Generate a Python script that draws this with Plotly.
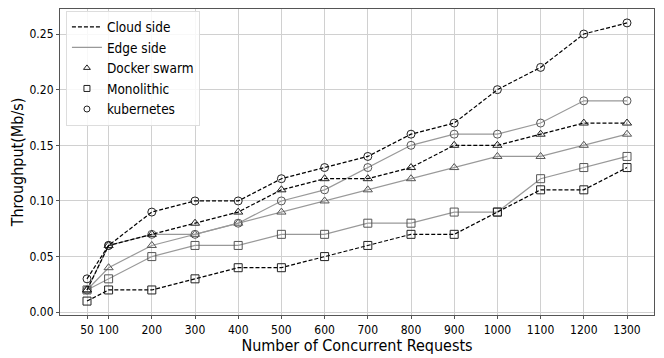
import plotly.graph_objects as go

requests = [50, 100, 200, 300, 400, 500, 600, 700, 800, 900, 1000, 1100, 1200, 1300]

cloud_docker = [0.02, 0.06, 0.07, 0.08, 0.09, 0.11, 0.12, 0.12, 0.13, 0.15, 0.15, 0.16, 0.17, 0.17]
cloud_mono = [0.01, 0.02, 0.02, 0.03, 0.04, 0.04, 0.05, 0.06, 0.07, 0.07, 0.09, 0.11, 0.11, 0.13]
cloud_k8s = [0.03, 0.06, 0.09, 0.10, 0.10, 0.12, 0.13, 0.14, 0.16, 0.17, 0.20, 0.22, 0.25, 0.26]

edge_docker = [0.02, 0.04, 0.06, 0.07, 0.08, 0.09, 0.10, 0.11, 0.12, 0.13, 0.14, 0.14, 0.15, 0.16]
edge_mono = [0.02, 0.03, 0.05, 0.06, 0.06, 0.07, 0.07, 0.08, 0.08, 0.09, 0.09, 0.12, 0.13, 0.14]
edge_k8s = [0.02, 0.06, 0.07, 0.07, 0.08, 0.10, 0.11, 0.13, 0.15, 0.16, 0.16, 0.17, 0.19, 0.19]

y_ticks = [0.00, 0.05, 0.10, 0.15, 0.20, 0.25]

font = "DejaVu Sans Condensed, DejaVu Sans, sans-serif"
symbols = {"Docker swarm": "triangle-up-open", "Monolithic": "square-open", "kubernetes": "circle-open"}

fig = go.Figure()

series = [
    (edge_docker, "Docker swarm", "edge"),
    (edge_mono, "Monolithic", "edge"),
    (edge_k8s, "kubernetes", "edge"),
    (cloud_docker, "Docker swarm", "cloud"),
    (cloud_mono, "Monolithic", "cloud"),
    (cloud_k8s, "kubernetes", "cloud"),
]
for vals, kind, side in series:
    if side == "cloud":
        line = dict(color="black", width=1.2, dash="4px,2px")
        mcol = "#222222"
    else:
        line = dict(color="#999999", width=1.2)
        mcol = "#555555"
    fig.add_trace(go.Scatter(
        x=requests, y=vals, mode="lines+markers", showlegend=False,
        line=line,
        marker=dict(symbol=symbols[kind], size=8, color=mcol, line=dict(width=1, color=mcol)),
    ))

# legend-only entries
fig.add_trace(go.Scatter(x=[None], y=[None], mode="lines", name="Cloud side",
                         line=dict(color="black", width=1.2, dash="4px,2px")))
fig.add_trace(go.Scatter(x=[None], y=[None], mode="lines", name="Edge side",
                         line=dict(color="#999999", width=1.2)))
for kind in ["Docker swarm", "Monolithic", "kubernetes"]:
    fig.add_trace(go.Scatter(x=[None], y=[None], mode="markers", name=kind,
                             marker=dict(symbol=symbols[kind], size=6, color="#222222",
                                         line=dict(width=1, color="#222222"))))

# page body has an 8px margin, so the figure is drawn 8px smaller
fig.update_layout(
    width=656, height=350,
    margin=dict(l=52, r=10, t=1, b=43),
    paper_bgcolor="white", plot_bgcolor="white",
    font=dict(family=font, size=12, color="black"),
    legend=dict(x=0.01, y=0.995, xanchor="left", yanchor="top",
                bgcolor="rgba(255,255,255,0.85)", bordercolor="#dddddd", borderwidth=1,
                font=dict(size=13.5), tracegroupgap=0, itemwidth=30),
)
fig.update_xaxes(
    range=[-12.5, 1362.5], tickmode="array", tickvals=requests,
    ticktext=[str(v) for v in requests],
    showgrid=True, gridcolor="#d0d0d0", gridwidth=1,
    showline=True, linecolor="#555555", linewidth=1.2, mirror=True,
    ticks="outside", ticklen=3, tickcolor="#555555", zeroline=False,
    title=dict(text="Number of Concurrent Requests", font=dict(size=16), standoff=1),
    tickfont=dict(size=12),
)
fig.update_yaxes(
    range=[-0.0025, 0.2725], tickmode="array", tickvals=y_ticks,
    ticktext=[f"{v:.2f}" for v in y_ticks],
    showgrid=True, gridcolor="#d0d0d0", gridwidth=1,
    showline=True, linecolor="#555555", linewidth=1.2, mirror=True,
    ticks="outside", ticklen=3, tickcolor="#555555", zeroline=False,
    title=dict(text="Throughput(Mb/s)", font=dict(size=16), standoff=4),
    tickfont=dict(size=12),
)

fig.write_html("out.html")
